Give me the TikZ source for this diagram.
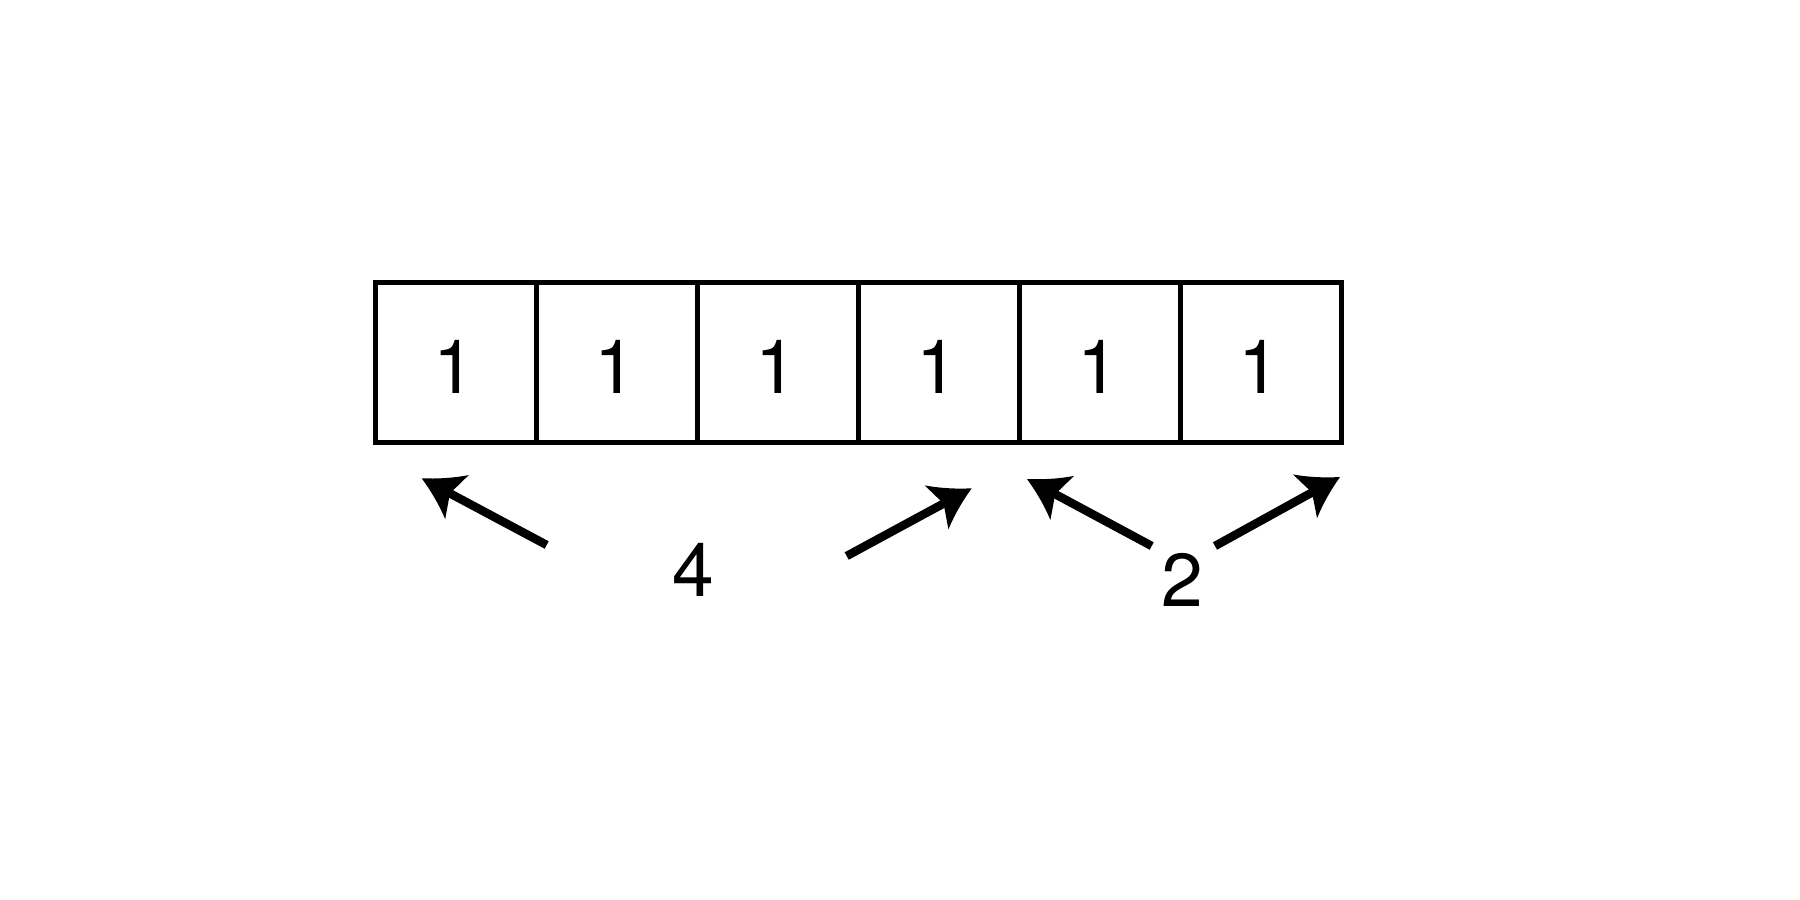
\documentclass[tikz,border=0pt]{standalone}
\usepackage{fontspec}
\setmainfont{TeX Gyre Heros}
\usetikzlibrary{arrows.meta}
\pgfdeclarearrow{
  name=Swoop,
  setup code={
    \pgfarrowssettipend{0pt}
    \pgfarrowssetlineend{-27pt}
    \pgfarrowssetvisualbackend{-32pt}
    \pgfarrowsupperhullpoint{-40pt}{25pt}
    \pgfarrowshullpoint{0pt}{0pt}
  },
  drawing code={
    \pgfpathmoveto{\pgfqpoint{0pt}{0pt}}
    \pgfpathcurveto{\pgfqpoint{-13.5pt}{6.5pt}}{\pgfqpoint{-27pt}{14.5pt}}{\pgfqpoint{-40pt}{25pt}}
    \pgfpathlineto{\pgfqpoint{-32pt}{0pt}}
    \pgfpathlineto{\pgfqpoint{-40pt}{-25pt}}
    \pgfpathcurveto{\pgfqpoint{-27pt}{-14.5pt}}{\pgfqpoint{-13.5pt}{-6.5pt}}{\pgfqpoint{0pt}{0pt}}
    \pgfpathclose
    \pgfusepathqfill
  }
}
\tikzset{
  cell/.style={draw, line width=4.5pt, minimum width=161pt, minimum height=160pt, inner sep=0pt},
  lbl/.style={anchor=base, inner sep=0pt, font=\fontsize{75}{90}\selectfont},
  arr/.style={line width=8.5pt, -{Swoop}}
}
\begin{document}
\begin{tikzpicture}[x=1pt,y=-1pt]
\useasboundingbox[fill=white] (0,0) rectangle (1800,900);
\foreach \i in {0,...,5} {
  \node[cell] (c\i) at ({456.2+161*\i},362.7) {};
  \node[lbl] (n\i) at ({454+161*\i},393) {1};
}
\node[lbl] (four) at (693,596) {4};
\node[lbl] (two) at (1182,606.7) {2};
\coordinate (t1) at (546.7,545);
\coordinate (h1) at (421.7,478.3);
\coordinate (t2) at (846.7,556);
\coordinate (h2) at (971.7,488.3);
\coordinate (t3) at (1151.7,546);
\coordinate (h3) at (1027,479);
\coordinate (t4) at (1215,546);
\coordinate (h4) at (1340,477);
\draw[arr] (t1) -- (h1);
\draw[arr] (t2) -- (h2);
\draw[arr] (t3) -- (h3);
\draw[arr] (t4) -- (h4);
\end{tikzpicture}
\end{document}
